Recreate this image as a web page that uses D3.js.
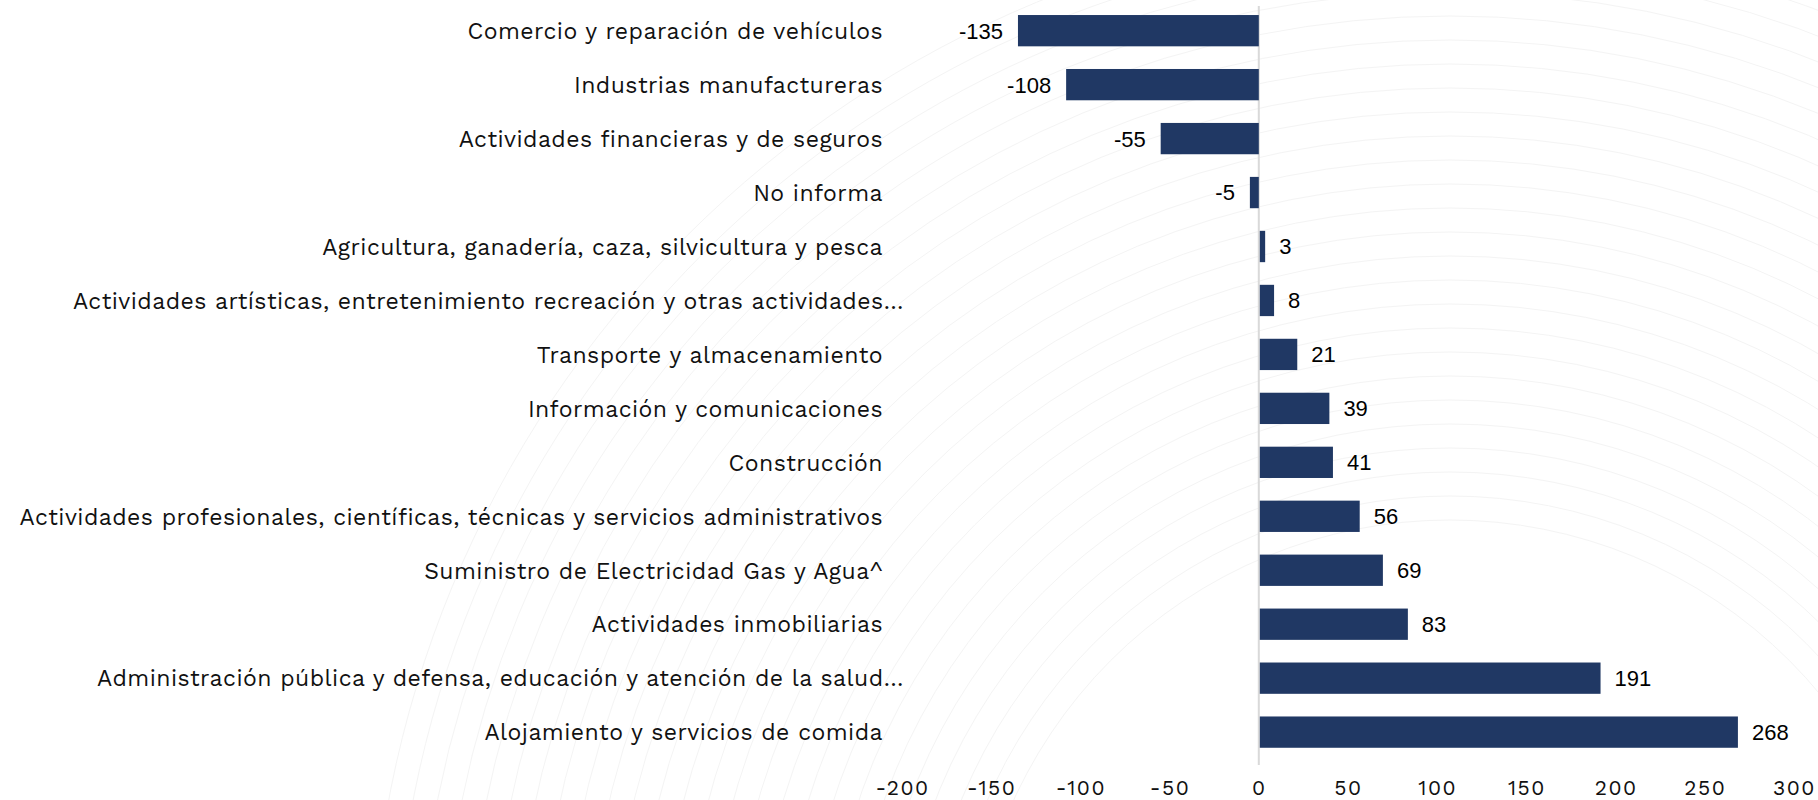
<!DOCTYPE html>
<html>
<head>
<meta charset="utf-8">
<script src="https://cdn.jsdelivr.net/npm/d3@7"></script>
<style>
  html, body { margin: 0; padding: 0; background: #ffffff; }
  svg { display: block; }
</style>
</head>
<body>
<svg id="chart" width="1818" height="800"></svg>
<script>
const categories = [
  "Comercio y reparación de vehículos",
  "Industrias manufactureras",
  "Actividades financieras y de seguros",
  "No informa",
  "Agricultura, ganadería, caza, silvicultura y pesca",
  "Actividades artísticas, entretenimiento recreación y otras actividades…",
  "Transporte y almacenamiento",
  "Información y comunicaciones",
  "Construcción",
  "Actividades profesionales, científicas, técnicas y servicios administrativos",
  "Suministro de Electricidad Gas y Agua^",
  "Actividades inmobiliarias",
  "Administración pública y defensa, educación y atención de la salud…",
  "Alojamiento y servicios de comida"
];
const values = [-135, -108, -55, -5, 3, 8, 21, 39, 41, 56, 69, 83, 191, 268];
const xTicks = [-200, -150, -100, -50, 0, 50, 100, 150, 200, 250, 300];

const svg = d3.select("#chart");

// faint decorative background arcs
const bg = svg.append("g").attr("fill", "none").attr("stroke", "#f4f4f4").attr("stroke-width", 1);
d3.range(480, 1100, 24).forEach(r => {
  bg.append("circle").attr("cx", 1450).attr("cy", 1000).attr("r", r);
});

const x = d3.scaleLinear().domain([-200, 300]).range([902, 1794]);
const y = d3.scaleBand().domain(categories).range([3.7, 759.1]).paddingInner(0.42).paddingOuter(0.21);

const barColor = "#203864";
const labelFont = "'Work Sans', 'Open Sans', Inter, 'DejaVu Sans', sans-serif";

// zero line
svg.append("line")
  .attr("x1", x(0)).attr("x2", x(0))
  .attr("y1", 6).attr("y2", 765)
  .attr("stroke", "#d9d9d9").attr("stroke-width", 2);

// bars
svg.append("g").selectAll("rect")
  .data(values)
  .join("rect")
  .attr("x", d => Math.min(x(0), x(d)) + (d > 0 ? 1 : 0))
  .attr("width", d => Math.abs(x(d) - x(0)))
  .attr("y", (d, i) => y(categories[i]))
  .attr("height", y.bandwidth())
  .attr("fill", barColor);

// value labels
svg.append("g").selectAll("text")
  .data(values)
  .join("text")
  .attr("x", d => d < 0 ? x(d) - 15 : x(d) + 15)
  .attr("y", (d, i) => y(categories[i]) + y.bandwidth() / 2)
  .attr("dy", "0.36em")
  .attr("text-anchor", d => d < 0 ? "end" : "start")
  .attr("font-family", "'Liberation Sans', Arial, sans-serif")
  .attr("font-size", 22)
  .attr("fill", "#000")
  .text(d => d);

// category labels
svg.append("g").selectAll("text")
  .data(categories)
  .join("text")
  .attr("x", d => d.endsWith("…") ? 904 : 883)
  .attr("y", d => y(d) + y.bandwidth() / 2)
  .attr("dy", "0.36em")
  .attr("text-anchor", "end")
  .attr("font-family", labelFont)
  .attr("font-size", 23)
  .attr("letter-spacing", "0.45px")
  .attr("fill", "#111")
  .text(d => d);

// x axis tick labels
const axis = d3.axisBottom(x).tickValues(xTicks).tickSize(0).tickPadding(0).tickFormat(d3.format("d"));
const axg = svg.append("g").attr("transform", "translate(0,780)").call(axis);
axg.select(".domain").remove();
axg.selectAll("text")
  .attr("dy", "0.71em")
  .attr("font-family", labelFont)
  .attr("font-size", 21)
  .attr("letter-spacing", "1.5px")
  .attr("fill", "#111")
  .text(d => String(d));
</script>
</body>
</html>
